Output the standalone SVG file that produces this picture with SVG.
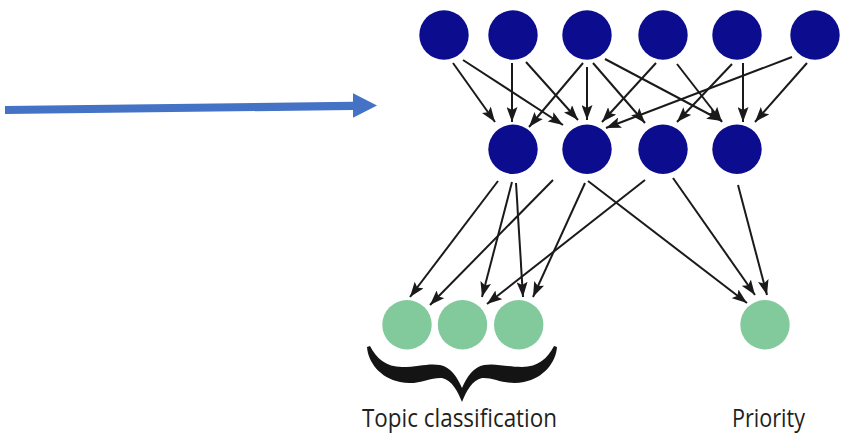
<svg xmlns="http://www.w3.org/2000/svg" width="846" height="433" viewBox="0 0 846 433">
  <style>
    .hidden { fill: #0c0c8e; }
    .out { fill: #82c99c; }
    .edge { stroke: #1a1a1a; stroke-width: 2; fill: none; marker-end: url(#ah); }
    .label { font-family: "Open Sans", "Noto Sans", sans-serif; font-size: 25px; fill: #231f20; }
  </style>
  <defs>
    <marker id="ah" viewBox="0 0 15 11" refX="15" refY="5.5" markerWidth="15" markerHeight="11" markerUnits="userSpaceOnUse" orient="auto">
      <path d="M0,0 L15,5.5 L0,11 L3,5.5 Z" fill="#1a1a1a"/>
    </marker>
  </defs>
  <rect width="846" height="433" fill="#ffffff"/>

  <!-- input pointer -->
  <g id="input-arrow">
    <path d="M5,106 L353,101.7 L353,93.3 L377,105.5 L353,117.7 L353,110 L5,114 Z" fill="#4472c4"/>
  </g>

  <!-- connectors -->
  <g id="connectors">
    <!-- top layer to middle layer -->
    <path class="edge" d="M453,63 L495,122"/>
    <path class="edge" d="M463,60 L563,125"/>
    <path class="edge" d="M512,63 L512,122"/>
    <path class="edge" d="M526,62 L578,120"/>
    <path class="edge" d="M583,63 L529,127"/>
    <path class="edge" d="M587,67 L587,120"/>
    <path class="edge" d="M593,63 L645,123"/>
    <path class="edge" d="M605,59 L722,121"/>
    <path class="edge" d="M656,63 L602,122"/>
    <path class="edge" d="M677,64 L722,122"/>
    <path class="edge" d="M732,64 L677,122"/>
    <path class="edge" d="M743,63 L743,122"/>
    <path class="edge" d="M792,57 L606,128"/>
    <path class="edge" d="M807,63 L755,122"/>
    <!-- middle layer to outputs -->
    <path class="edge" d="M498,181 L410,297"/>
    <path class="edge" d="M512,182 L482,297"/>
    <path class="edge" d="M516,183 L523,297"/>
    <path class="edge" d="M553,180 L430,305"/>
    <path class="edge" d="M585,183 L533,297"/>
    <path class="edge" d="M645,180 L487,304"/>
    <path class="edge" d="M588,181 L747,303"/>
    <path class="edge" d="M673,178 L755,295"/>
    <path class="edge" d="M738,185 L767,295"/>
  </g>

  <!-- top layer -->
  <g id="t1"><circle class="hidden" cx="444" cy="35" r="24.7"/></g>
  <g id="t2"><circle class="hidden" cx="513" cy="35" r="24.7"/></g>
  <g id="t3"><circle class="hidden" cx="587" cy="35" r="24.7"/></g>
  <g id="t4"><circle class="hidden" cx="663" cy="35" r="24.7"/></g>
  <g id="t5"><circle class="hidden" cx="737" cy="35" r="24.7"/></g>
  <g id="t6"><circle class="hidden" cx="815" cy="35" r="24.7"/></g>

  <!-- middle layer -->
  <g id="h1"><circle class="hidden" cx="513" cy="149.3" r="24.7"/></g>
  <g id="h2"><circle class="hidden" cx="587" cy="149.3" r="24.7"/></g>
  <g id="h3"><circle class="hidden" cx="663" cy="149.3" r="24.7"/></g>
  <g id="h4"><circle class="hidden" cx="737" cy="149.3" r="24.7"/></g>

  <!-- outputs -->
  <g id="o1"><circle class="out" cx="407" cy="324.7" r="24.7"/></g>
  <g id="o2"><circle class="out" cx="462.5" cy="324.7" r="24.7"/></g>
  <g id="o3"><circle class="out" cx="518.7" cy="324.7" r="24.7"/></g>
  <g id="o4"><circle class="out" cx="765" cy="324.7" r="24.7"/></g>

  <!-- brace grouping the topic outputs -->
  <g id="brace">
    <path fill="#141414" d="M367,347 C368,362 380,378 400,382 C418,386 430,377 442,378 C452,380 458,392 462,402 C466,392 472,380 482,378 C494,377 506,386 524,382 C544,378 556,362 557,347 L554,346 C548,358 538,367 522,367 C506,367 496,363 484,365 C474,367 467,376 462,388 C457,376 450,367 440,365 C428,363 418,367 402,367 C386,367 376,358 370,346 Z"/>
  </g>

  <g id="labels">
    <text class="label" x="362" y="426.5" textLength="195" lengthAdjust="spacingAndGlyphs">Topic classification</text>
    <text class="label" x="732" y="426.5" textLength="73" lengthAdjust="spacingAndGlyphs">Priority</text>
  </g>
</svg>
